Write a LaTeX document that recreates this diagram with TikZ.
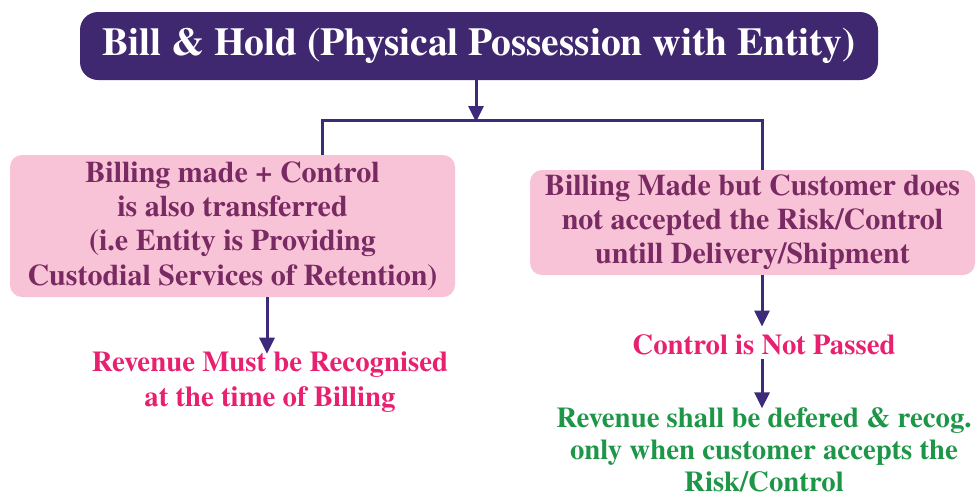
\documentclass[tikz,border=0pt]{standalone}
\usepackage{fontspec}
\setmainfont{texgyretermes}[Extension=.otf,UprightFont=*-regular,BoldFont=*-bold]
\usetikzlibrary{arrows.meta}
\definecolor{hdpurple}{RGB}{64,40,112}
\definecolor{linepurple}{RGB}{62,42,122}
\definecolor{boxpink}{RGB}{249,195,215}
\definecolor{boxtext}{RGB}{122,42,98}
\definecolor{revred}{RGB}{232,32,112}
\definecolor{revgreen}{RGB}{30,150,72}
\tikzset{
  hdbox/.style={fill=hdpurple,rounded corners=18pt,text=white,
    minimum width=798pt,minimum height=68pt,
    font=\bfseries\fontsize{39.5}{44}\selectfont},
  casebox/.style={fill=boxpink,rounded corners=12pt,text=boxtext,align=center,
    minimum width=445pt,font=\bfseries\fontsize{30}{34.2}\selectfont},
  result/.style={align=center,inner sep=2pt,font=\bfseries\fontsize{28.8}{34.5}\selectfont},
  flow/.style={linepurple,line width=3pt},
  flowarrow/.style={flow,-{Triangle[width=15pt,length=16pt]}}
}
\begin{document}
\begin{tikzpicture}[x=1pt,y=-1pt]
\useasboundingbox (0,0) rectangle (979,499);
% heading
\node[hdbox] (head) at (479,46) {Bill \& Hold (Physical Possession with Entity)};
% the two cases
\node[casebox,minimum height=142pt] (made) at (232.5,226)
  {Billing made + Control\\is also transferred\\(i.e Entity is Providing\\Custodial Services of Retention)};
\node[casebox,minimum height=105pt] (notmade) at (752.5,222.5)
  {Billing Made but Customer does\\not accepted the Risk/Control\\untill Delivery/Shipment};
% outcomes
\node[result,text=revred] (recog) at (270,382)
  {Revenue Must be Recognised\\at the time of Billing};
\node[result,text=revred] (notpass) at (764,345) {Control is Not Passed};
\node[result,text=revgreen,inner sep=0pt,font=\bfseries\fontsize{28.8}{32.2}\selectfont] (defer) at (764,450)
  {Revenue shall be defered \& recog.\\only when customer accepts the\\Risk/Control};
% connectors
\coordinate (fork) at (476,120);
\coordinate (lfork) at (322,120);
\coordinate (rfork) at (762,120);
\draw[flowarrow] (head.south -| fork) -- ([yshift=-2pt]fork);
\draw[flow] (made.north -| lfork) -- (lfork) -- (rfork) -- (notmade.north -| rfork);
\draw[flowarrow] (made.south -| 267,0) -- ([yshift=-4pt]recog.north -| 267,0);
\draw[flowarrow] (notmade.south -| rfork) -- ([yshift=6pt]notpass.north -| rfork);
\draw[flowarrow] ([yshift=-2pt]notpass.south -| rfork) -- ([yshift=-1pt]defer.north -| rfork);
\end{tikzpicture}
\end{document}
